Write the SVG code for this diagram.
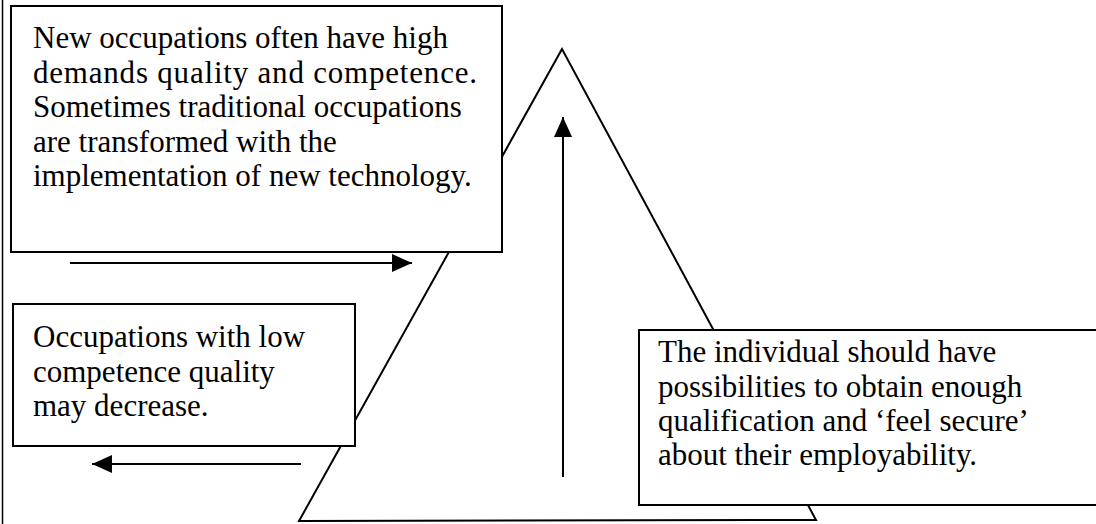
<svg xmlns="http://www.w3.org/2000/svg" width="1096" height="524" viewBox="0 0 1096 524">
  <style>
    .box { fill: #ffffff; stroke: #000000; stroke-width: 2; }
    .tri { fill: none; stroke: #000000; stroke-width: 2; stroke-linejoin: miter; }
    .txt { font-family: "Liberation Serif", "Times New Roman", serif; font-size: 31px; fill: #000000; }
    .conn { stroke: #000000; stroke-width: 2; fill: none; }
    .edge { stroke: #000000; stroke-width: 1.5; }
  </style>
  <defs>
    <marker id="head" viewBox="0 0 20 18" refX="20" refY="9" markerWidth="20" markerHeight="18" markerUnits="userSpaceOnUse" orient="auto">
      <path d="M0,0 L20,9 L0,18 Z" fill="#000000"/>
    </marker>
  </defs>
  <rect x="0" y="0" width="1096" height="524" fill="#ffffff"/>
  <line class="edge" x1="2.5" y1="0" x2="2.5" y2="524"/>

  <g id="triangle">
    <polygon class="tri" points="562,49 299,521 816,520"/>
  </g>

  <g id="connectors">
    <line class="conn" x1="70" y1="263" x2="412" y2="263" marker-end="url(#head)"/>
    <line class="conn" x1="301" y1="464" x2="92" y2="464" marker-end="url(#head)"/>
    <line class="conn" x1="563" y1="477" x2="563" y2="117" marker-end="url(#head)"/>
  </g>

  <g id="box-new-occupations">
    <rect class="box" x="11" y="6" width="491" height="246"/>
    <text class="txt" x="33" y="48">New occupations often have high</text>
    <text class="txt" x="33" y="82.5" textLength="444" lengthAdjust="spacing">demands quality and competence.</text>
    <text class="txt" x="33" y="117">Sometimes traditional occupations</text>
    <text class="txt" x="33" y="151.5">are transformed with the</text>
    <text class="txt" x="33" y="186">implementation of new technology.</text>
  </g>

  <g id="box-low-competence">
    <rect class="box" x="13" y="304" width="342" height="142"/>
    <text class="txt" x="33" y="347">Occupations with low</text>
    <text class="txt" x="33" y="381.5">competence quality</text>
    <text class="txt" x="33" y="416">may decrease.</text>
  </g>

  <g id="box-individual">
    <rect class="box" x="639" y="330" width="470" height="175"/>
    <text class="txt" x="658" y="362">The individual should have</text>
    <text class="txt" x="658" y="396.5">possibilities to obtain enough</text>
    <text class="txt" x="658" y="431">qualification and ‘feel secure’</text>
    <text class="txt" x="658" y="465">about their employability.</text>
  </g>
</svg>
